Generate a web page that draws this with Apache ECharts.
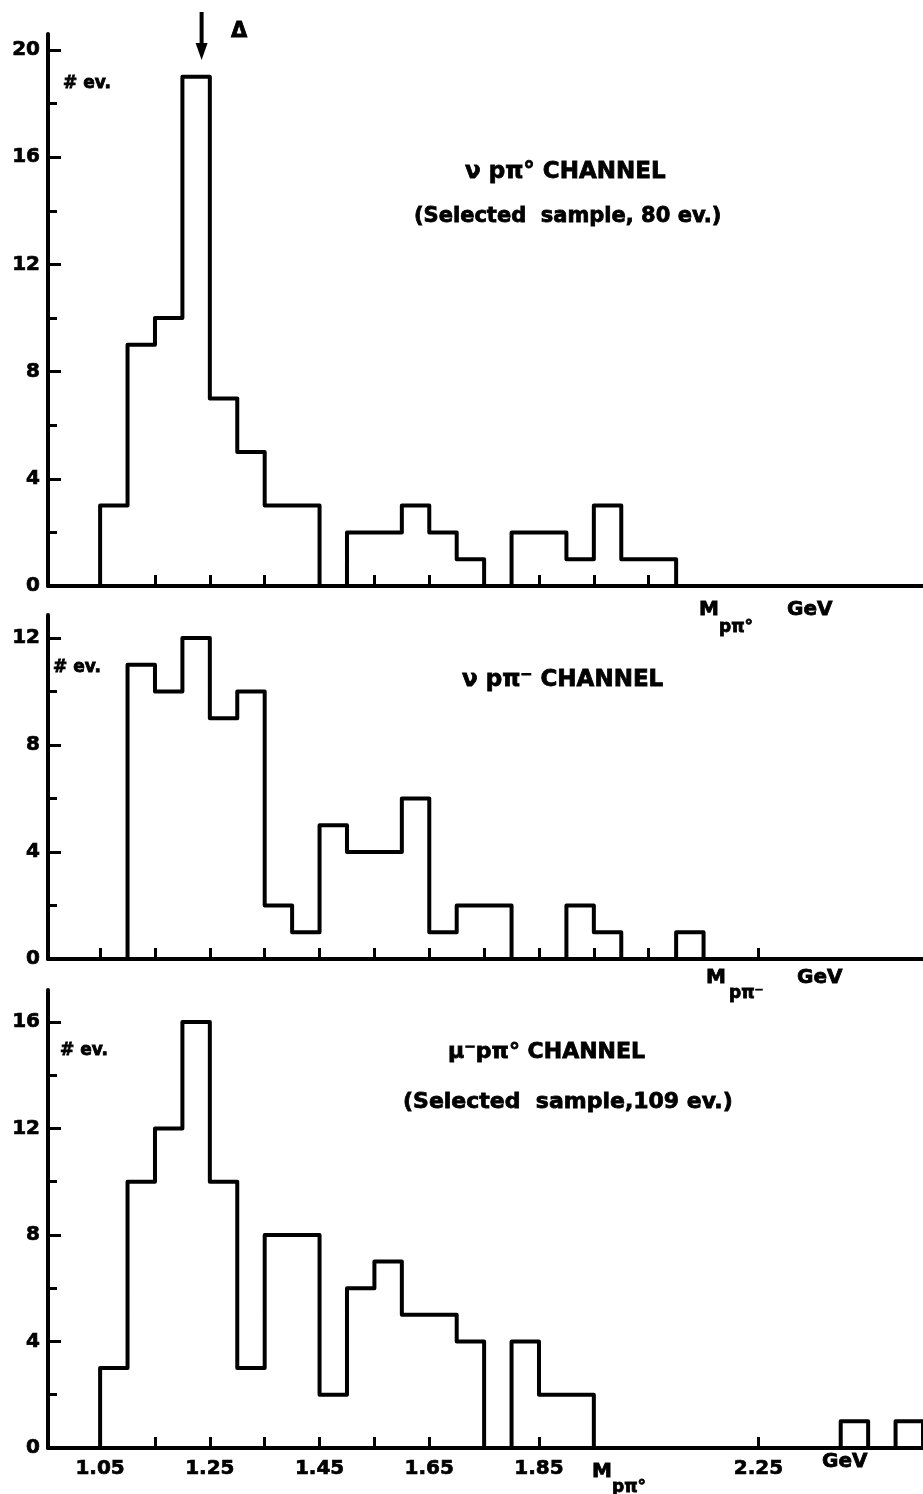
<!DOCTYPE html>
<html>
<head>
<meta charset="utf-8">
<script src="https://cdn.jsdelivr.net/npm/echarts@6/dist/echarts.min.js"></script>
<style>
html, body { margin: 0; padding: 0; background: #fff; }
#main { width: 923px; height: 1494px; }
</style>
</head>
<body>
<div id="main"></div>
<script>
// lower bin edges (GeV) and event counts
var topEdges = [1.05, 1.10, 1.15, 1.20, 1.25, 1.30, 1.35, 1.40, 1.45, 1.50, 1.55,
	1.60, 1.65, 1.70, 1.75, 1.80, 1.85, 1.90, 1.95, 2.00, 2.05];
var topCounts = [3, 9, 10, 19, 7, 5, 3, 3, 0, 2, 2, 3, 2, 1, 0, 2, 2, 1, 3, 1, 1];
var topEnd = 2.10;

var midEdges = [1.10, 1.15, 1.20, 1.25, 1.30, 1.35, 1.40, 1.45, 1.50, 1.55, 1.60,
	1.65, 1.70, 1.75, 1.80, 1.85, 1.90, 1.95, 2.00, 2.05, 2.10];
var midCounts = [11, 10, 12, 9, 10, 2, 1, 5, 4, 4, 6, 1, 2, 2, 0, 0, 2, 1, 0, 0, 1];
var midEnd = 2.15;

var botEdges = [1.05, 1.10, 1.15, 1.20, 1.25, 1.30, 1.35, 1.40, 1.45, 1.50, 1.55,
	1.60, 1.65, 1.70, 1.75, 1.80, 1.85, 1.90, 1.95, 2.00, 2.05, 2.10, 2.15, 2.20,
	2.25, 2.30, 2.35, 2.40, 2.45, 2.50];
var botCounts = [3, 10, 12, 16, 10, 3, 8, 8, 2, 6, 7, 5, 5, 4, 0, 4, 2, 2, 0, 0,
	0, 0, 0, 0, 0, 0, 0, 1, 0, 1];
var botEnd = 2.55;

// axis ticks and labels
var topXTicks = [1.05, 1.15, 1.25, 1.35, 1.45, 1.55, 1.65, 1.75, 1.85, 1.95, 2.05];
var midXTicks = [1.05, 1.15, 1.25, 1.35, 1.45, 1.55, 1.65, 1.75, 1.85, 1.95, 2.05, 2.15, 2.25];
var botXTicks = [1.15, 1.25, 1.35, 1.45, 1.55, 1.65, 1.75, 1.85, 2.25];
var botXLabels = [1.05, 1.25, 1.45, 1.65, 1.85, 2.25];

var topYMajor = [0, 4, 8, 12, 16, 20];
var topYMinor = [2, 6, 10, 14, 18];
var midYMajor = [0, 4, 8, 12];
var midYMinor = [2, 6, 10];
var botYMajor = [0, 4, 8, 12, 16];
var botYMinor = [2, 6, 10, 14];

var deltaMass = 1.235;

var chart = echarts.init(document.getElementById('main'));

var FONT = 'DejaVu Sans';
var xMin = 0.955, xMax = 2.55;

var labelStyle = {
	color: '#000', fontFamily: FONT, fontWeight: 'bold', fontSize: 20,
	textBorderColor: '#000', textBorderWidth: 0.7
};

var panels = [
	{ top: 34, height: 552, yMax: 20.6, xTicks: topXTicks, xLabels: null, yMajor: topYMajor, yMinor: topYMinor },
	{ top: 615, height: 344, yMax: 12.86, xTicks: midXTicks, xLabels: null, yMajor: midYMajor, yMinor: midYMinor },
	{ top: 990, height: 458, yMax: 17.2, xTicks: botXTicks, xLabels: botXLabels, yMajor: botYMajor, yMinor: botYMinor }
];

function histo(edges, counts, end) {
	var pts = [[edges[0], 0]];
	for (var i = 0; i < counts.length; i++) {
		pts.push([edges[i], counts[i]]);
	}
	pts.push([end, 0]);
	return pts;
}

var grids = [], xAxes = [], yAxes = [], series = [];
var hist = [histo(topEdges, topCounts, topEnd), histo(midEdges, midCounts, midEnd), histo(botEdges, botCounts, botEnd)];

panels.forEach(function (p, g) {
	grids.push({ left: 48, top: p.top, width: (xMax - xMin) * 550, height: p.height });
	xAxes.push({
		type: 'value', gridIndex: g, min: xMin, max: xMax,
		axisLine: { lineStyle: { color: '#000', width: 4 } },
		axisTick: { inside: true, length: 11, customValues: p.xTicks, lineStyle: { color: '#000', width: 3 } },
		axisLabel: p.xLabels ? echarts.util.extend({
			show: true, customValues: p.xLabels, margin: 11,
			formatter: function (v) { return v.toFixed(2); }
		}, labelStyle) : { show: false },
		splitLine: { show: false }
	});
	yAxes.push({
		type: 'value', gridIndex: g, min: 0, max: p.yMax, position: 'left',
		axisLine: { show: true, lineStyle: { color: '#000', width: 4 } },
		axisTick: { show: true, inside: true, length: 13, customValues: p.yMajor, lineStyle: { color: '#000', width: 3 } },
		axisLabel: echarts.util.extend({ show: true, customValues: p.yMajor, margin: 8 }, labelStyle),
		splitLine: { show: false }
	});
	yAxes.push({
		type: 'value', gridIndex: g, min: 0, max: p.yMax, position: 'left',
		axisLine: { show: false },
		axisTick: { show: true, inside: true, length: 9, customValues: p.yMinor, lineStyle: { color: '#000', width: 3 } },
		axisLabel: { show: false },
		splitLine: { show: false }
	});
	series.push({
		type: 'line', step: 'end', xAxisIndex: g, yAxisIndex: g * 2,
		data: hist[g], symbol: 'none', clip: false,
		lineStyle: { color: '#000', width: 4, join: 'round' }
	});
});

chart.setOption({
	animation: false,
	backgroundColor: '#fff',
	grid: grids,
	xAxis: xAxes,
	yAxis: yAxes,
	series: series
});

function txt(s, x, y, size, align) {
	return {
		type: 'text', x: x, y: y, silent: true,
		style: {
			text: s, fill: '#000', font: 'bold ' + size + 'px "' + FONT + '"',
			stroke: '#000', lineWidth: 0.8,
			textAlign: align || 'left', textVerticalAlign: 'middle'
		}
	};
}

// the Delta arrow sits at the Delta(1232) mass
var ax = chart.convertToPixel({ xAxisIndex: 0 }, deltaMass);

var graphics = [
	{ type: 'line', silent: true, shape: { x1: ax, y1: 12, x2: ax, y2: 46 }, style: { stroke: '#000', lineWidth: 4 } },
	{ type: 'polygon', silent: true, shape: { points: [[ax - 6, 43], [ax + 6, 43], [ax, 60]] }, style: { fill: '#000' } },
	txt('\u0394', 231, 32, 21),

	// top panel
	txt('# ev.', 63, 84, 17),
	txt('\u03bd p\u03c0\u00b0 CHANNEL', 465, 172, 23),
	txt('(Selected  sample, 80 ev.)', 414, 217, 21),
	txt('M', 699, 610, 20),
	txt('p\u03c0\u00b0', 719, 628, 17),
	txt('GeV', 787, 610, 20),

	// middle panel
	txt('# ev.', 53, 668, 17),
	txt('\u03bd p\u03c0\u207b CHANNEL', 462, 680, 23),
	txt('M', 706, 978, 20),
	txt('p\u03c0\u207b', 729, 994, 17),
	txt('GeV', 797, 978, 20),

	// bottom panel
	txt('# ev.', 60, 1051, 17),
	txt('\u03bc\u207bp\u03c0\u00b0 CHANNEL', 448, 1052, 22),
	txt('(Selected  sample,109 ev.)', 403, 1102, 22),
	txt('M', 592, 1472, 20),
	txt('p\u03c0\u00b0', 612, 1488, 17),
	txt('GeV', 822, 1462, 20)
];

chart.setOption({ graphic: graphics });
</script>
</body>
</html>
